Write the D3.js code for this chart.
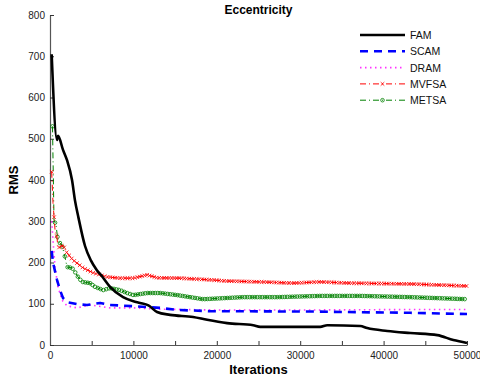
<!DOCTYPE html>
<meta charset="utf-8">
<script src="https://d3js.org/d3.v7.min.js"></script>
<style>
  body { margin: 0; background: #fff; }
  text { font-family: "Liberation Sans", Arial, sans-serif; }
</style>
<div id="chart"></div>
<script>

// values: [iteration, RMS]
var famData = [[200,705],[840,497],[960,507],[1560,473],[2040,448],[2640,400],[3000,350],[3400,310],
  [4200,240],[4900,205],[5600,182],[6300,165],[7200,141],[8760,116],[10000,106],[10800,102],
  [11800,96],[12840,80],[14400,73],[17160,68],[18840,61],[21240,53],[24360,48],[25200,44],
  [27240,44],[32400,44],[33240,48],[37200,46],[38040,41],[40440,34],[43200,29],[46440,24],
  [48360,12],[50000,5]];
var scamData = [[200,228],[360,200],[840,158],[1200,133],[1560,114],[2040,104],[3240,99],[4440,97],
  [6000,102],[7200,97],[10000,94],[11640,92],[13200,90],[15240,85],[19200,82],[32400,81],
  [35160,80],[43200,78],[50000,75]];
var dramData = [[200,300],[240,291],[360,254],[600,189],[960,141],[1440,109],[2040,95],[3240,90],
  [4800,97],[7200,90],[10000,90],[13200,87],[19200,85],[32400,85],[43200,86],[50000,86]];
var mvfsaData = [[200,420],[360,345],[600,280],[840,259],[960,235],[1560,242],[2040,223],[2760,206],
  [3960,187],[5160,175],[6840,165],[8400,162],[10000,162],[11640,170],[12840,163],[15600,162],
  [19200,158],[21240,155],[25200,153],[29160,150],[32400,153],[36000,150],[43200,148],[50000,143]];
var metsaData = [[300,530],[480,303],[720,291],[960,252],[1440,242],[1800,213],[2040,189],[2640,187],
  [3000,177],[3360,165],[3840,153],[4800,150],[5400,141],[6360,133],[7200,138],[8400,133],
  [9240,126],[10000,121],[11640,126],[13200,126],[15240,121],[18360,111],[21240,114],[23160,116],
  [27240,116],[32400,119],[37200,119],[43200,116],[50000,111]];

var xTicks = [0, 10000, 20000, 30000, 40000, 50000];
var xMinor = [5000, 15000, 25000, 35000, 45000];
var yTicks = [0, 100, 200, 300, 400, 500, 600, 700, 800];

var series = [
  {name: "FAM",   data: famData,   color: "#000000", width: 2.6, dash: null,      marker: null, smooth: true},
  {name: "SCAM",  data: scamData,  color: "#0000ff", width: 2.6, dash: "8,6",     marker: null},
  {name: "DRAM",  data: dramData,  color: "#ff33ff", width: 1.6, dash: "1.5,3.5", marker: null},
  {name: "MVFSA", data: mvfsaData, color: "#ff0000", width: 1,   dash: "6,3,1,3", marker: "x"},
  {name: "METSA", data: metsaData, color: "#008000", width: 1,   dash: "6,3,1,3", marker: "o"}
];

var W = 480, H = 379;
var margin = {top: 15, right: 13, bottom: 34, left: 50},
    width = W - margin.left - margin.right,
    height = H - margin.top - margin.bottom;

var svg = d3.select("#chart").append("svg")
    .attr("width", W).attr("height", H);
var g = svg.append("g")
    .attr("transform", "translate(" + margin.left + "," + margin.top + ")");

var x = d3.scaleLinear().domain([0, 50000]).range([0, width]);
var y = d3.scaleLinear().domain([0, 800]).range([height, 0]);

// axes, ticks pointing inward
var xAxis = g.append("g")
    .attr("transform", "translate(0," + height + ")")
    .call(d3.axisBottom(x).tickValues(xTicks.concat(xMinor)).tickSizeInner(-4).tickSizeOuter(0)
      .tickFormat(function(d) { return xTicks.indexOf(d) >= 0 ? d : ""; }));
var yAxis = g.append("g")
    .call(d3.axisLeft(y).tickValues(yTicks).tickSizeInner(-4).tickSizeOuter(0));

[xAxis, yAxis].forEach(function(a) {
  a.select(".domain").attr("stroke", "#555").attr("stroke-width", 1.2);
  a.selectAll(".tick line").attr("stroke", "#333");
  a.selectAll(".tick text").attr("font-size", 10).attr("fill", "#222")
    .attr("font-family", "Liberation Sans, Arial, sans-serif");
});
xAxis.selectAll(".tick text").attr("dy", "1.1em");
yAxis.selectAll(".tick text").attr("x", -5);

function lineFor(s) {
  return d3.line()
    .curve(s.smooth ? d3.curveMonotoneX : d3.curveLinear)
    .x(function(d) { return x(d[0]); })
    .y(function(d) { return y(d[1]); });
}

// draw back to front so FAM sits on top
series.slice().reverse().forEach(function(s) {
  var path = g.append("path")
    .datum(s.data)
    .attr("d", lineFor(s))
    .attr("fill", "none")
    .attr("stroke", s.color)
    .attr("stroke-width", s.width)
    .attr("stroke-linejoin", "round")
    .attr("stroke-dasharray", s.dash);

  if (s.marker) {
    // markers along the drawn line, spaced by horizontal step like the sampled iterations
    var node = path.node(), len = node.getTotalLength();
    var pts = [], lastX = -99;
    for (var l = 0; l <= len; l += 0.5) {
      var p = node.getPointAtLength(l);
      if (p.x - lastX >= 2.4) { pts.push(p); lastX = p.x; }
    }
    drawMarkers(g, pts, s);
  }
});

function drawMarkers(sel, pts, s) {
  if (s.marker === "x") {
    sel.append("g").selectAll("path").data(pts).enter().append("path")
      .attr("d", function(p) { return "M" + (p.x-1.8) + "," + (p.y-1.8) + "L" + (p.x+1.8) + "," + (p.y+1.8) +
        "M" + (p.x-1.8) + "," + (p.y+1.8) + "L" + (p.x+1.8) + "," + (p.y-1.8); })
      .attr("stroke", s.color).attr("stroke-width", 0.8).attr("fill", "none");
  } else {
    sel.append("g").selectAll("circle").data(pts).enter().append("circle")
      .attr("cx", function(p) { return p.x; })
      .attr("cy", function(p) { return p.y; })
      .attr("r", 1.8)
      .attr("stroke", s.color).attr("stroke-width", 0.8).attr("fill", "none");
  }
}

// legend
var legend = svg.append("g").attr("transform", "translate(360,35)");
series.forEach(function(s, i) {
  var row = legend.append("g").attr("transform", "translate(0," + (i * 16.3) + ")");
  row.append("line")
    .attr("x1", 0).attr("x2", 45).attr("y1", 0).attr("y2", 0)
    .attr("stroke", s.color).attr("stroke-width", s.width)
    .attr("stroke-dasharray", s.dash);
  if (s.marker) drawMarkers(row, [{x: 22.5, y: 0}], s);
  row.append("text")
    .attr("x", 50).attr("y", 4)
    .attr("font-size", 10.5).attr("fill", "#111")
    .text(s.name);
});

// titles
svg.append("text")
  .attr("x", margin.left + width / 2).attr("y", 14)
  .attr("text-anchor", "middle").attr("font-size", 12).attr("font-weight", "bold")
  .text("Eccentricity");
svg.append("text")
  .attr("x", margin.left + width / 2).attr("y", 374)
  .attr("text-anchor", "middle").attr("font-size", 13).attr("font-weight", "bold")
  .text("Iterations");
svg.append("text")
  .attr("transform", "translate(18," + (margin.top + height / 2) + ") rotate(-90)")
  .attr("text-anchor", "middle").attr("font-size", 13).attr("font-weight", "bold")
  .text("RMS");

</script>
